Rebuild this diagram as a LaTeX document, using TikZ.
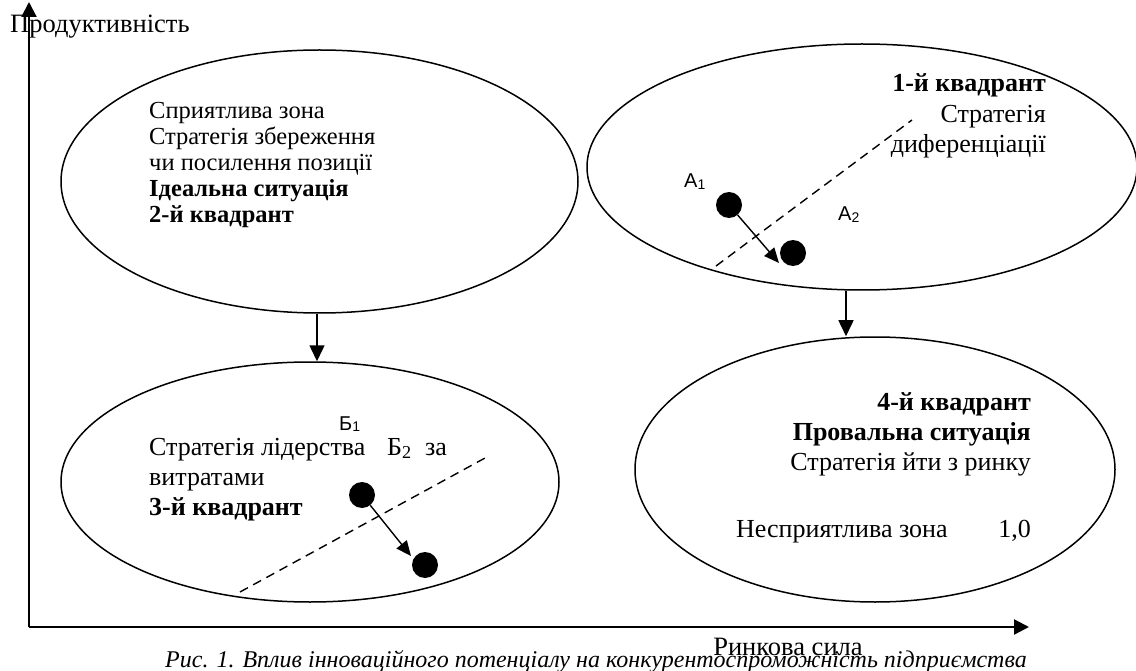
\documentclass[tikz,border=0pt]{standalone}
\usepackage{fontspec}
\setmainfont{Liberation Serif}
\newfontfamily\arialf{Liberation Sans}
\usetikzlibrary{shapes.geometric,arrows.meta}
\newcommand{\subnum}[1]{\raisebox{-1.5pt}{\fontsize{14}{14}\selectfont #1}}
\begin{document}
\begin{tikzpicture}[x=1pt,y=-1pt,
  zone/.style={ellipse,draw,line width=1.5pt,inner sep=0pt},
  dot/.style={circle,fill=black,minimum size=26pt,inner sep=0pt},
  txt/.style={inner sep=0pt,font=\fontsize{26}{30}\selectfont},
  btxt/.style={inner sep=0pt,font=\fontsize{26}{30}\selectfont\bfseries},
  ttxt/.style={inner sep=0pt,font=\fontsize{24.5}{26}\selectfont},
  tbtxt/.style={inner sep=0pt,font=\fontsize{24.5}{26}\selectfont\bfseries},
  lbl/.style={inner sep=0pt,font=\arialf\fontsize{20}{22}\selectfont},
  conn/.style={line width=1.5pt,-{Triangle[length=16pt,width=15pt]}},
  mv/.style={line width=1.4pt,-{Triangle[length=15pt,width=13pt]}},
  sep/.style={line width=1.4pt,dash pattern=on 9pt off 6pt},
  axis/.style={line width=2.2pt,-{Triangle[length=15pt,width=15pt]}}]
\useasboundingbox (0,0) rectangle (1136,671);
% axes
\coordinate (O) at (29,627);
\coordinate (Ytop) at (29,2);
\coordinate (Xend) at (1029,627);
\draw[axis] (O) -- (Ytop);
\draw[axis] (O) -- (Xend);
\node[txt,anchor=base west,font=\fontsize{26.5}{30}\selectfont] (ylab) at (10,33) {Продуктивність};
\node[txt,anchor=base,font=\fontsize{26.5}{30}\selectfont] (xlab) at (788,655) {Ринкова сила};
\node[inner sep=0pt,anchor=base east,font=\itshape\fontsize{24}{28}\selectfont] (cap) at (1027,667) {Рис. 1. Вплив інноваційного потенціалу на конкурентоспроможність підприємства};
% ellipses
\node[zone,minimum width=517pt,minimum height=263pt] (e1) at (319.5,181.5) {};
\node[zone,minimum width=550pt,minimum height=246pt] (e2) at (862,167) {};
\node[zone,minimum width=498pt,minimum height=240pt] (e3) at (310,482) {};
\node[zone,minimum width=480pt,minimum height=265pt] (e4) at (875,469.5) {};
% connectors between ellipses
\coordinate (c1) at (317,0);
\coordinate (c2) at (846,0);
\draw[conn] (c1 |- e1.south) -- (c1 |- e3.north);
\draw[conn] (c2 |- e2.south) -- (c2 |- e4.north);
% quadrant 2
\node[ttxt,anchor=base west] (t1a) at (149,119) {Сприятлива зона};
\node[ttxt,anchor=base west] (t1b) at (149,145) {Стратегія збереження};
\node[ttxt,anchor=base west] (t1c) at (149,171) {чи посилення позиції};
\node[tbtxt,anchor=base west] (t1d) at (149,197) {Ідеальна ситуація};
\node[tbtxt,anchor=base west] (t1e) at (149,223) {2-й квадрант};
% quadrant 1
\node[btxt,anchor=base east] (t2a) at (1046,92) {1-й квадрант};
\node[txt,anchor=base east] (t2b) at (1046,123) {Стратегія};
\node[txt,anchor=base east] (t2c) at (1046,153) {диференціації};
\coordinate (d1a) at (716,266);
\coordinate (d1b) at (912,120);
\draw[sep] (d1a) -- (d1b);
\node[dot] (a1) at (729,205) {};
\node[dot] (a2) at (793,253) {};
\coordinate (ta) at (779,263);
\draw[mv] (a1) -- (ta);
\node[lbl,anchor=base west] (la1) at (684,188) {А\subnum{1}};
\node[lbl,anchor=base west] (la2) at (838,221) {А\subnum{2}};
% quadrant 3
\node[lbl,anchor=base west] (lb1) at (339,430) {Б\subnum{1}};
\node[txt,anchor=base west] (t3a) at (149,455) {Стратегія лідерства};
\node[txt,anchor=base west] (t3b) at (387,455) {Б\textsubscript{2}};
\node[txt,anchor=base west] (t3c) at (425,455) {за};
\node[txt,anchor=base west] (t3d) at (149,485) {витратами};
\node[btxt,anchor=base west] (t3e) at (149,515) {3-й квадрант};
\coordinate (d3a) at (240,592);
\coordinate (d3b) at (485,458);
\draw[sep] (d3a) -- (d3b);
\node[dot] (b1) at (362,495) {};
\node[dot] (b2) at (425,565) {};
\coordinate (tb) at (411,556);
\draw[mv] (b1) -- (tb);
% quadrant 4
\node[btxt,anchor=base east] (t4a) at (1031,410) {4-й квадрант};
\node[btxt,anchor=base east] (t4b) at (1031,440) {Провальна ситуація};
\node[txt,anchor=base east] (t4c) at (1031,470) {Стратегія йти з ринку};
\node[txt,anchor=base west] (t4d) at (736,537) {Несприятлива зона};
\node[txt,anchor=base east] (t4e) at (1031,537) {1,0};
\end{tikzpicture}
\end{document}
